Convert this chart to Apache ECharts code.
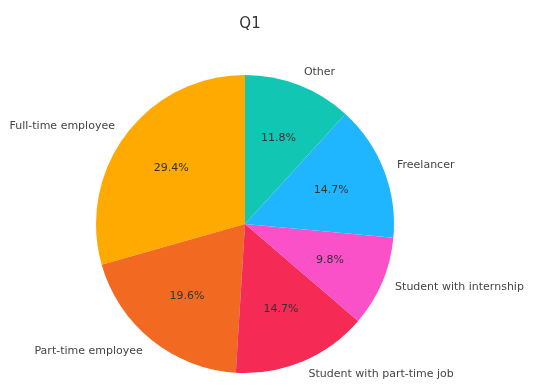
<!DOCTYPE html>
<html>
<head>
<meta charset="utf-8">
<script src="https://cdn.jsdelivr.net/npm/echarts@6/dist/echarts.min.js"></script>
<style>
  html, body { margin: 0; padding: 0; background: #fff; }
  #chart { width: 545px; height: 387px; }
</style>
</head>
<body>
<div id="chart"></div>
<script>
// Q1 answers: respondent counts per category
const categories = [
  'Full-time employee',
  'Part-time employee',
  'Student with part-time job',
  'Student with internship',
  'Freelancer',
  'Other'
];
const counts = [30, 20, 15, 10, 15, 12];
const sliceColors = ['#FFAA00', '#F26A21', '#F52A55', '#FA50C8', '#20B6FF', '#12C6B4'];

const total = counts.reduce((a, b) => a + b, 0);
const center = [245, 224];
const R = 149;

const data = categories.map((name, i) => ({
  name: name,
  value: counts[i],
  itemStyle: { color: sliceColors[i] }
}));

const fontFamily = 'DejaVu Sans';

const chart = echarts.init(document.getElementById('chart'), null, { renderer: 'canvas' });
chart.setOption({
  backgroundColor: '#ffffff',
  animation: false,
  title: {
    text: 'Q1',
    left: 245,
    top: 12,
    textAlign: 'center',
    textStyle: { fontFamily: fontFamily, fontSize: 15, fontWeight: 'normal', color: '#333' }
  },
  series: [
    {
      // slices with category names just outside the rim
      type: 'pie',
      center: center,
      radius: [0, R],
      startAngle: 90,
      clockwise: false,
      avoidLabelOverlap: false,
      silent: true,
      data: data,
      label: {
        show: true,
        position: 'outside',
        fontFamily: fontFamily,
        fontSize: 11,
        color: '#444',
        distanceToLabelLine: 0
      },
      labelLine: { show: false, length: 14, length2: 0 }
    },
    {
      // transparent copy carrying the percentage labels at 0.6 R
      type: 'pie',
      center: center,
      radius: [0, R * 1.2],
      startAngle: 90,
      clockwise: false,
      silent: true,
      data: categories.map((name, i) => ({
        name: name,
        value: counts[i],
        itemStyle: { color: 'rgba(0,0,0,0)' }
      })),
      label: {
        show: true,
        position: 'inside',
        fontFamily: fontFamily,
        fontSize: 11,
        color: '#333',
        formatter: p => (p.value / total * 100).toFixed(1) + '%'
      },
      labelLine: { show: false }
    }
  ]
});
</script>
</body>
</html>
